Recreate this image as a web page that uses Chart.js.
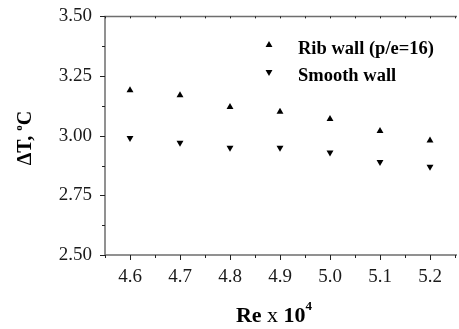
<!DOCTYPE html>
<html>
<head>
<meta charset="utf-8">
<script src="https://cdn.jsdelivr.net/npm/chart.js@4/dist/chart.umd.min.js"></script>
<style>
  html, body { margin: 0; padding: 0; background: #fff; overflow: hidden; }
  #deltaChart { display: block; }
</style>
</head>
<body>
<canvas id="deltaChart" width="459" height="329"></canvas>
<script>
// ข้อมูลกราฟ (อ่านค่าจากรูป)
const reValues = [4.6, 4.7, 4.8, 4.9, 5.0, 5.1, 5.2];
const ribWall = [3.19, 3.17, 3.12, 3.10, 3.07, 3.02, 2.98];
const smoothWall = [2.99, 2.97, 2.95, 2.95, 2.93, 2.89, 2.87];
const seriesLabels = ['Rib wall (p/e=16)', 'Smooth wall'];
const xTicks = [4.6, 4.7, 4.8, 4.9, 5.0, 5.1, 5.2];
const yTicks = [2.50, 2.75, 3.00, 3.25, 3.50];

const SERIF = "'Liberation Serif', 'Times New Roman', serif";

function toPoints(xs, ys) {
    return xs.map((x, i) => ({ x: x, y: ys[i] }));
}

// วาดเส้นแกน ขีด tick หลัก/รอง คำอธิบายกราฟ และชื่อแกน
const axesPlugin = {
    id: 'axesDecor',
    afterDraw(chart) {
        const ctx = chart.ctx;
        const area = chart.chartArea;
        const xs = chart.scales.x;
        const ys = chart.scales.y;

        ctx.save();
        // เส้นแกน
        ctx.strokeStyle = '#6e6e6e';
        ctx.lineWidth = 1.5;
        ctx.beginPath();
        ctx.moveTo(area.right + 2, area.top);
        ctx.lineTo(area.left, area.top);
        ctx.lineTo(area.left, area.bottom);
        ctx.lineTo(area.right + 2, area.bottom);
        ctx.stroke();

        // ขีด tick
        ctx.strokeStyle = '#222';
        ctx.lineWidth = 1;
        ctx.beginPath();
        for (let v = xs.min; v <= xs.max + 1e-9; v += 0.05) {
            const px = Math.round(xs.getPixelForValue(v)) + 0.5;
            const major = xTicks.some(t => Math.abs(t - v) < 1e-6);
            ctx.moveTo(px, area.bottom);
            ctx.lineTo(px, area.bottom + (major ? 5 : 3));
            ctx.moveTo(px, area.top);
            ctx.lineTo(px, area.top + 2);
        }
        for (let v = ys.min; v <= ys.max + 1e-9; v += 0.125) {
            const py = Math.round(ys.getPixelForValue(v)) + 0.5;
            const major = yTicks.some(t => Math.abs(t - v) < 1e-6);
            ctx.moveTo(area.left, py);
            ctx.lineTo(area.left - (major ? 5 : 3), py);
        }
        ctx.stroke();

        // คำอธิบายกราฟ (legend)
        const legendY = [45, 72];
        ctx.fillStyle = '#000';
        chart.data.datasets.forEach((ds, i) => {
            drawTriangle(ctx, 269, legendY[i], 4, ds.pointRotation === 180);
            ctx.font = 'bold 18.5px ' + SERIF;
            ctx.textAlign = 'left';
            ctx.textBaseline = 'alphabetic';
            ctx.fillText(ds.label, 298, legendY[i] + 9);
        });

        // ชื่อแกน Y: ΔT, °C
        ctx.save();
        ctx.translate(31, 138);
        ctx.rotate(-Math.PI / 2);
        drawRuns(ctx, [
            { text: '\u0394T, ', font: 'bold 20px ' + SERIF, dy: 0 },
            { text: 'o', font: 'bold 11px ' + SERIF, dy: -9 },
            { text: 'C', font: 'bold 20px ' + SERIF, dy: 0 }
        ], 0, 0);
        ctx.restore();

        // ชื่อแกน X: Re x 10^4
        drawRuns(ctx, [
            { text: 'Re', font: 'bold 22px ' + SERIF, dy: 0 },
            { text: ' x ', font: '22px ' + SERIF, dy: 0 },
            { text: '10', font: 'bold 22px ' + SERIF, dy: 0 },
            { text: '4', font: 'bold 13px ' + SERIF, dy: -12 }
        ], 274, 322);

        ctx.restore();
    }
};

// วาดข้อความหลายส่วน (ตัวยก) โดยจัดกึ่งกลางที่ cx
function drawRuns(ctx, runs, cx, baseY) {
    let total = 0;
    runs.forEach(r => { ctx.font = r.font; r.w = ctx.measureText(r.text).width; total += r.w; });
    let x = cx - total / 2;
    ctx.textAlign = 'left';
    ctx.textBaseline = 'alphabetic';
    ctx.fillStyle = '#000';
    runs.forEach(r => {
        ctx.font = r.font;
        ctx.fillText(r.text, x, baseY + r.dy);
        x += r.w;
    });
}

function drawTriangle(ctx, x, y, r, down) {
    const s = down ? -1 : 1;
    ctx.beginPath();
    ctx.moveTo(x, y - s * r);
    ctx.lineTo(x - r * 0.866, y + s * r * 0.5);
    ctx.lineTo(x + r * 0.866, y + s * r * 0.5);
    ctx.closePath();
    ctx.fill();
}

const ctx = document.getElementById('deltaChart').getContext('2d');

new Chart(ctx, {
    type: 'scatter',
    data: {
        datasets: [{
            label: seriesLabels[0],
            data: toPoints(reValues, ribWall),
            pointStyle: 'triangle',
            pointRadius: 4,
            pointBackgroundColor: '#000',
            pointBorderColor: '#000',
            pointBorderWidth: 0
        }, {
            label: seriesLabels[1],
            data: toPoints(reValues, smoothWall),
            pointStyle: 'triangle',
            pointRotation: 180,
            pointRadius: 4,
            pointBackgroundColor: '#000',
            pointBorderColor: '#000',
            pointBorderWidth: 0
        }]
    },
    options: {
        responsive: false,
        animation: false,
        layout: { padding: { top: 15, right: 0, left: 0, bottom: 0 } },
        plugins: {
            legend: { display: false },
            tooltip: { enabled: false }
        },
        scales: {
            x: {
                type: 'linear',
                min: 4.55,
                max: 5.25,
                grid: { display: false },
                border: { display: false },
                afterBuildTicks: scale => { scale.ticks = xTicks.map(v => ({ value: v })); },
                afterFit: scale => { scale.height = 74; },
                ticks: {
                    padding: 3,
                    color: '#1a1a1a',
                    font: { family: SERIF, size: 19 },
                    maxRotation: 0,
                    callback: v => Number(v).toFixed(1)
                }
            },
            y: {
                min: 2.5,
                max: 3.5,
                grid: { display: false },
                border: { display: false },
                afterBuildTicks: scale => { scale.ticks = yTicks.map(v => ({ value: v })); },
                afterFit: scale => { scale.width = 105; },
                ticks: {
                    padding: 5,
                    color: '#1a1a1a',
                    font: { family: SERIF, size: 19 },
                    callback: v => Number(v).toFixed(2)
                }
            }
        }
    },
    plugins: [axesPlugin]
});
</script>
</body>
</html>
